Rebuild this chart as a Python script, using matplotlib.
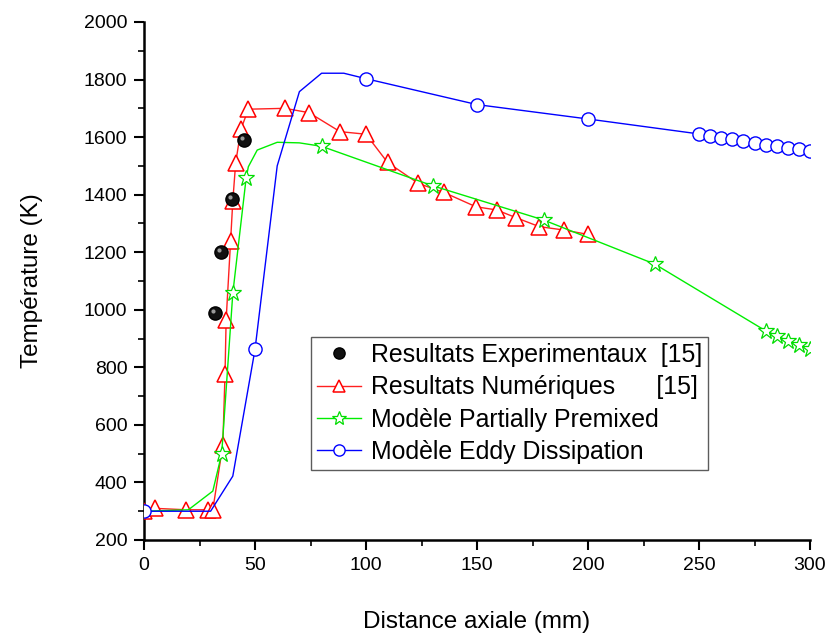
import matplotlib
matplotlib.use("Agg")
import matplotlib.pyplot as plt
from matplotlib.ticker import MultipleLocator
from matplotlib import transforms

plt.rcParams['font.family'] = ['Liberation Sans', 'DejaVu Sans']

# Experimental results [15]
exp_x = [32, 34.5, 39.5, 45]
exp_y = [990, 1202, 1384, 1590]

# Numerical results [15]
num_x = [0, 5, 19, 29, 31, 35.5, 36.5, 37, 39, 40, 41.3, 43.7, 47, 63.5, 74.3, 88.3,
         100, 109.7, 123.6, 135, 149.5, 158.8, 167.6, 178, 189.2, 200]
num_y = [300, 310, 305, 305, 305, 530, 778, 965, 1238, 1378, 1511, 1628, 1697, 1700, 1685, 1619,
         1610, 1512, 1439, 1408, 1358, 1347, 1320, 1289, 1277, 1262]

# Partially premixed model
pp_x = [0, 20, 31, 35, 40, 46, 47, 51, 60, 70, 80, 130, 180, 230, 280, 285, 290, 295, 300]
pp_y = [300, 305, 370, 500, 1057, 1457, 1497, 1555, 1582, 1580, 1568, 1431, 1312, 1159,
        927, 910, 892, 876, 864]
pp_marks = [3, 4, 5, 10, 11, 12, 13, 14, 15, 16, 17, 18]

# Eddy dissipation model
ed_x = [0, 30, 40, 50, 60, 70, 80, 90, 100, 150, 200,
        250, 255, 260, 265, 270, 275, 280, 285, 290, 295, 300]
ed_y = [300, 300, 422, 862, 1500, 1758, 1822, 1822, 1803, 1713, 1663,
        1611, 1604, 1598, 1593, 1587, 1580, 1574, 1568, 1562, 1557, 1553]
ed_marks = [0, 3, 8, 9, 10] + list(range(11, 22))

labels = ["Resultats Experimentaux  [15]",
          "Resultats Numériques      [15]",
          "Modèle Partially Premixed",
          "Modèle Eddy Dissipation"]

fig = plt.figure(figsize=(8.3, 6.35), dpi=100)
ax = fig.add_axes([144/830, 95/635, 666/830, 518/635])

h2, = ax.plot(num_x, num_y, color='#ff2020', lw=1.0, marker='^', ms=11,
              mfc='white', mec='#ff0000', mew=1.1, label=labels[1], zorder=3)
h3, = ax.plot(pp_x, pp_y, color='#00ee00', lw=1.0, marker='*', ms=12,
              mfc='white', mec='#00dd00', mew=0.9, markevery=pp_marks, label=labels[2], zorder=3)
h4, = ax.plot(ed_x, ed_y, color='#0000ff', lw=1.0, marker='o', ms=9.5,
              mfc='white', mec='#0000ff', mew=1.0, markevery=ed_marks, label=labels[3], zorder=4)
h1, = ax.plot(exp_x, exp_y, ls='none', marker='o', ms=9.5, mfc='#111111', mec='#000000',
              label=labels[0], zorder=5)
hl = transforms.offset_copy(ax.transData, fig=fig, x=-1.5, y=1.5, units='points')
ax.plot(exp_x, exp_y, ls='none', marker='o', ms=3, mfc='#9a9a9a', mec='none',
        transform=hl, zorder=6)

ax.set_xlim(0, 300)
ax.set_ylim(200, 2000)
ax.xaxis.set_major_locator(MultipleLocator(50))
ax.xaxis.set_minor_locator(MultipleLocator(25))
ax.yaxis.set_major_locator(MultipleLocator(200))
ax.yaxis.set_minor_locator(MultipleLocator(100))

for s in ['top', 'right']:
    ax.spines[s].set_visible(False)
for s in ['left', 'bottom']:
    ax.spines[s].set_linewidth(1.8)
ax.tick_params(which='major', direction='out', length=7, width=1.5, labelsize=14, pad=5)
ax.tick_params(which='minor', direction='out', length=4, width=1.2)

ax.set_xlabel("Distance axiale (mm)", fontsize=17.5, labelpad=27)
ax.set_ylabel("Température (K)", fontsize=17.5, labelpad=29)

leg = ax.legend(handles=[h1, h2, h3, h4], loc='upper left', bbox_to_anchor=(0.2508, 0.392),
                borderaxespad=0, fontsize=17.9, frameon=True, fancybox=False,
                handlelength=1.75, handletextpad=0.4, borderpad=0.25, labelspacing=0.33,
                markerscale=0.85)
leg.get_frame().set_edgecolor('#333333')
leg.get_frame().set_linewidth(1.0)

fig.savefig("out.png", dpi=100)
